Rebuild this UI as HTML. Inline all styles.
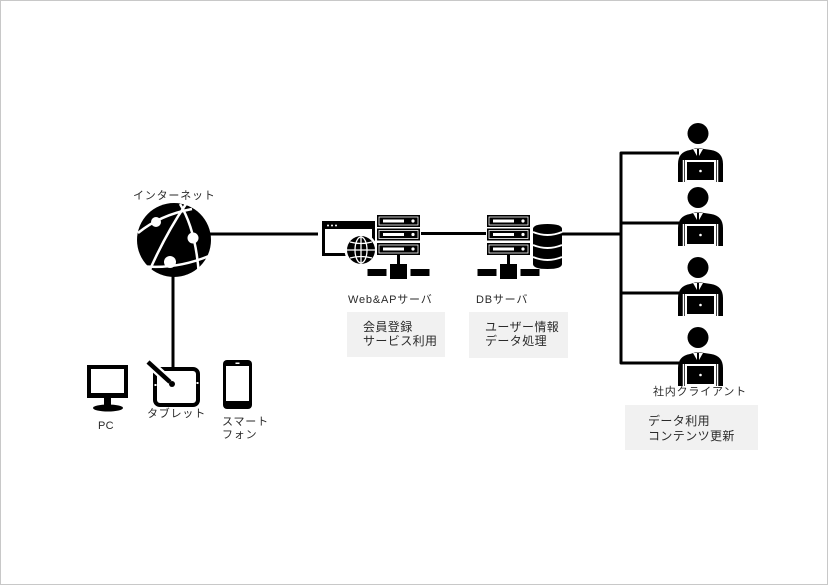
<!DOCTYPE html>
<html>
<head>
<meta charset="utf-8">
<style>
html,body{margin:0;padding:0;background:#fff;}
svg{display:block;}
text{font-family:"Liberation Sans","Noto Sans CJK JP",sans-serif;fill:#2a2a2a;}
.l{font-size:11px;letter-spacing:0.8px;}
.b{font-size:12px;letter-spacing:0.4px;}
</style>
</head>
<body>
<svg width="828" height="585" viewBox="0 0 828 585" xmlns="http://www.w3.org/2000/svg">
<defs>
  <g id="person">
    <circle cx="20" cy="10.5" r="10.5" fill="#000"/>
    <path d="M0,59 L0,41 Q0,29 12,27 L17,25.5 L23,25.5 L33,27 Q45,29 45,41 L45,59 Z" fill="#000"/>
    <path d="M15,26 L19,26 L19,33 Z" fill="#fff"/>
    <path d="M25,26 L21,26 L21,33 Z" fill="#fff"/>
    <line x1="5.5" y1="37" x2="5.5" y2="59" stroke="#fff" stroke-width="1.5"/>
    <line x1="39.5" y1="37" x2="39.5" y2="59" stroke="#fff" stroke-width="1.5"/>
    <rect x="7" y="37" width="31" height="22" fill="#fff"/>
    <rect x="9" y="39" width="27" height="18" fill="#000"/>
    <circle cx="22.5" cy="48" r="1.3" fill="#fff"/>
  </g>
  <g id="unit">
    <rect x="0" y="0" width="43" height="12" fill="#000"/>
    <rect x="2" y="2" width="39" height="8" fill="none" stroke="#fff" stroke-width="0.8"/>
    <rect x="6" y="4.5" width="21" height="3" fill="#fff"/>
    <circle cx="36" cy="6" r="1.6" fill="#fff"/>
  </g>
  <g id="base">
    <rect x="-1.5" y="0" width="3" height="10" fill="#000"/>
    <rect x="-8.5" y="9" width="17" height="15" fill="#000"/>
    <rect x="-31" y="14" width="19" height="7" fill="#000"/>
    <rect x="12" y="14" width="19" height="7" fill="#000"/>
  </g>
</defs>

<rect x="0.5" y="0.5" width="827" height="584" fill="#fff" stroke="#c8c8c8" stroke-width="1"/>

<!-- connectors -->
<line x1="205" y1="234" x2="318" y2="234" stroke="#000" stroke-width="3"/>
<line x1="173" y1="270" x2="173" y2="367" stroke="#000" stroke-width="3"/>
<line x1="421" y1="233.5" x2="486" y2="233.5" stroke="#000" stroke-width="3"/>
<line x1="562" y1="234" x2="621" y2="234" stroke="#000" stroke-width="3"/>
<path d="M679,153 H621 V363 H679" fill="none" stroke="#000" stroke-width="3" stroke-linejoin="round"/>
<line x1="621" y1="223" x2="679" y2="223" stroke="#000" stroke-width="3"/>
<line x1="621" y1="293" x2="679" y2="293" stroke="#000" stroke-width="3"/>

<!-- internet globe -->
<circle cx="174" cy="240" r="37" fill="#000"/>
<g fill="none" stroke="#fff" stroke-width="2.5">
  <path d="M138,233 Q160,215 192,209"/>
  <path d="M148,274 Q165,235 186,204"/>
  <path d="M180,204 Q196,230 199,276"/>
  <path d="M140,266 Q175,270 209,256"/>
</g>
<circle cx="156" cy="222" r="5" fill="#fff"/>
<circle cx="193" cy="238" r="5.5" fill="#fff"/>
<circle cx="170" cy="262" r="6" fill="#fff"/>
<text class="l" x="133" y="199">インターネット</text>

<!-- Web & AP server -->
<rect x="323.5" y="222.5" width="50" height="32" fill="#fff" stroke="#000" stroke-width="3"/>
<rect x="323" y="222" width="51" height="7" fill="#000"/>
<circle cx="328" cy="225.5" r="1" fill="#fff"/>
<circle cx="332" cy="225.5" r="1" fill="#fff"/>
<circle cx="336" cy="225.5" r="1" fill="#fff"/>
<circle cx="361" cy="250" r="16.5" fill="#fff"/>
<circle cx="361" cy="250" r="14" fill="#000"/>
<g fill="none" stroke="#fff" stroke-width="1.3">
  <ellipse cx="361" cy="250" rx="6" ry="13"/>
  <line x1="361" y1="236" x2="361" y2="264"/>
  <line x1="347" y1="250" x2="375" y2="250"/>
  <path d="M350,242 Q361,245 372,242"/>
  <path d="M350,258 Q361,255 372,258"/>
</g>
<use href="#unit" x="377" y="215"/>
<use href="#unit" x="377" y="228.5"/>
<use href="#unit" x="377" y="243"/>
<use href="#base" x="398.5" y="255"/>
<text class="l" x="348" y="303">Web&amp;APサーバ</text>
<rect x="347" y="312" width="98" height="45" fill="#f1f1f1"/>
<text class="b" x="363" y="331">会員登録</text>
<text class="b" x="363" y="345">サービス利用</text>

<!-- DB server -->
<use href="#unit" x="487" y="215"/>
<use href="#unit" x="487" y="228.5"/>
<use href="#unit" x="487" y="243"/>
<use href="#base" x="508.5" y="255"/>
<path d="M533,229 Q533,224 547.5,224 Q562,224 562,229 L562,264 Q562,269 547.5,269 Q533,269 533,264 Z" fill="#000"/>
<g fill="none" stroke="#fff" stroke-width="2">
  <path d="M533,232 Q547.5,238 562,232"/>
  <path d="M533,245 Q547.5,251 562,245"/>
  <path d="M533,257 Q547.5,263 562,257"/>
</g>
<text class="l" x="476" y="303">DBサーバ</text>
<rect x="469" y="312" width="99" height="46" fill="#f1f1f1"/>
<text class="b" x="485" y="331">ユーザー情報</text>
<text class="b" x="485" y="345">データ処理</text>

<!-- clients -->
<use href="#person" x="678" y="123"/>
<use href="#person" x="678" y="187"/>
<use href="#person" x="678" y="257"/>
<use href="#person" x="678" y="327"/>
<text class="l" x="653" y="395">社内クライアント</text>
<rect x="625" y="405" width="133" height="45" fill="#f1f1f1"/>
<text class="b" x="648" y="425">データ利用</text>
<text class="b" x="648" y="440">コンテンツ更新</text>

<!-- PC -->
<rect x="87" y="365" width="41" height="33" fill="#000"/>
<rect x="91" y="369" width="33" height="24" fill="#fff"/>
<rect x="104" y="397" width="7" height="8" fill="#000"/>
<ellipse cx="108" cy="408" rx="15" ry="3.5" fill="#000"/>
<text class="l" x="98" y="429" style="letter-spacing:0.3px">PC</text>

<!-- tablet -->
<rect x="155" y="369" width="43" height="36" rx="5" fill="#fff" stroke="#000" stroke-width="4"/>
<line x1="147" y1="361" x2="170" y2="382" stroke="#fff" stroke-width="9" stroke-linecap="round"/>
<line x1="148" y1="362" x2="170" y2="382" stroke="#000" stroke-width="4.5"/>
<circle cx="172" cy="384" r="3" fill="#000"/>
<rect x="154.5" y="384" width="2" height="2" fill="#fff"/>
<rect x="196.5" y="382" width="2" height="2" fill="#fff"/>
<text class="l" x="147" y="417">タブレット</text>

<!-- smartphone -->
<rect x="223" y="360" width="29" height="49" rx="4" fill="#000"/>
<rect x="226" y="366" width="23" height="35" fill="#fff"/>
<rect x="235.5" y="362.5" width="4" height="1.5" fill="#fff"/>
<text class="l" x="222" y="425">スマート</text>
<text class="l" x="222" y="438">フォン</text>
</svg>
</body>
</html>
